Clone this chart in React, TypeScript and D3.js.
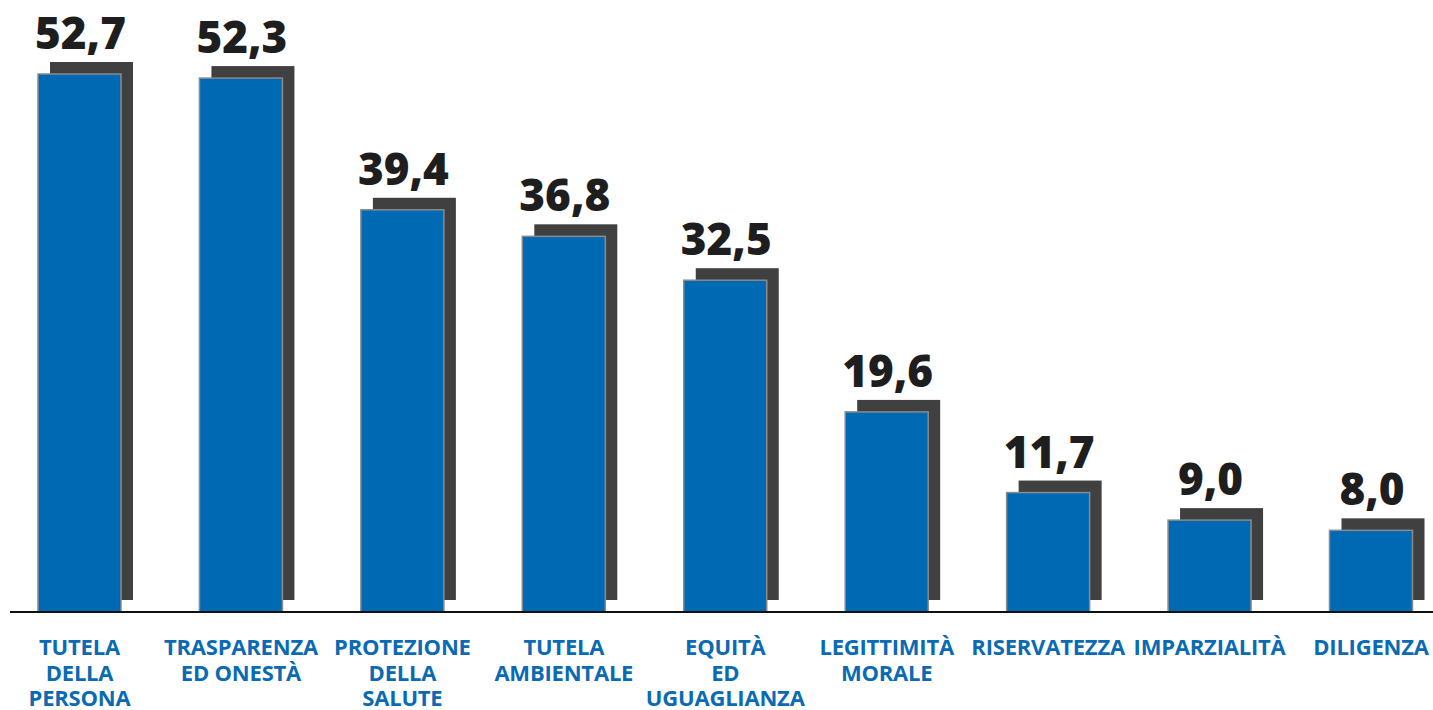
import React, { useRef, useEffect } from "react";
import * as d3 from "d3";

const categories = [
  "TUTELA\nDELLA\nPERSONA",
  "TRASPARENZA\nED ONESTÀ",
  "PROTEZIONE\nDELLA\nSALUTE",
  "TUTELA\nAMBIENTALE",
  "EQUITÀ\nED\nUGUAGLIANZA",
  "LEGITTIMITÀ\nMORALE",
  "RISERVATEZZA",
  "IMPARZIALITÀ",
  "DILIGENZA",
];
const values = [52.7, 52.3, 39.4, 36.8, 32.5, 19.6, 11.7, 9.0, 8.0];
const valueLabels = ["52,7", "52,3", "39,4", "36,8", "32,5", "19,6", "11,7", "9,0", "8,0"];

const App = () => {
  const svgRef = useRef<SVGSVGElement>(null);

  useEffect(() => {
    const width = 1433;
    const height = 710;
    const baseline = 612;
    const barW = 83;
    const shadow = 12;

    const svg = d3.select(svgRef.current).attr("width", width).attr("height", height);
    svg.selectAll("*").remove();

    const x = d3.scalePoint<number>().domain(d3.range(values.length)).range([79.5, 1371]);
    const y = d3.scaleLinear().domain([0, 52.7]).range([baseline, 74]);

    // shadows
    svg
      .append("g")
      .selectAll("rect")
      .data(values)
      .join("rect")
      .attr("x", (d, i) => x(i)! - barW / 2 + shadow)
      .attr("y", (d) => y(d) - shadow)
      .attr("width", barW)
      .attr("height", (d) => y(0) - y(d))
      .attr("fill", "#404040");

    svg
      .append("g")
      .selectAll("rect")
      .data(values)
      .join("rect")
      .attr("x", (d, i) => x(i)! - barW / 2)
      .attr("y", (d) => y(d))
      .attr("width", barW)
      .attr("height", (d) => y(0) - y(d))
      .attr("fill", "#0069b4")
      .attr("stroke", "#8a8a8a")
      .attr("stroke-width", 1.5);

    svg
      .append("line")
      .attr("x1", 10)
      .attr("x2", width)
      .attr("y1", baseline)
      .attr("y2", baseline)
      .attr("stroke", "#111")
      .attr("stroke-width", 2);

    svg
      .append("g")
      .selectAll("text")
      .data(values)
      .join("text")
      .attr("x", (d, i) => x(i)! + 1)
      .attr("y", (d) => y(d) - 25)
      .attr("text-anchor", "middle")
      .attr("font-family", "'Open Sans', sans-serif")
      .attr("font-weight", 800)
      .attr("font-size", 44)
      .attr("fill", "#1e1e1e")
      .text((d, i) => valueLabels[i]);

    const labels = svg
      .append("g")
      .selectAll("text")
      .data(categories)
      .join("text")
      .attr("text-anchor", "middle")
      .attr("font-family", "'Open Sans', sans-serif")
      .attr("font-weight", 700)
      .attr("font-size", 22)
      .attr("letter-spacing", -0.2)
      .attr("fill", "#0a6ab4");

    labels.each(function (d, i) {
      d3.select(this)
        .selectAll("tspan")
        .data(d.split("\n"))
        .join("tspan")
        .attr("x", x(i)!)
        .attr("y", (l, j) => 655 + j * 25.5)
        .text((l) => l);
    });
  }, []);

  return (
    <svg ref={svgRef} style={{ position: "absolute", left: 0, top: 0, background: "#fff" }}></svg>
  );
};

export default App;
